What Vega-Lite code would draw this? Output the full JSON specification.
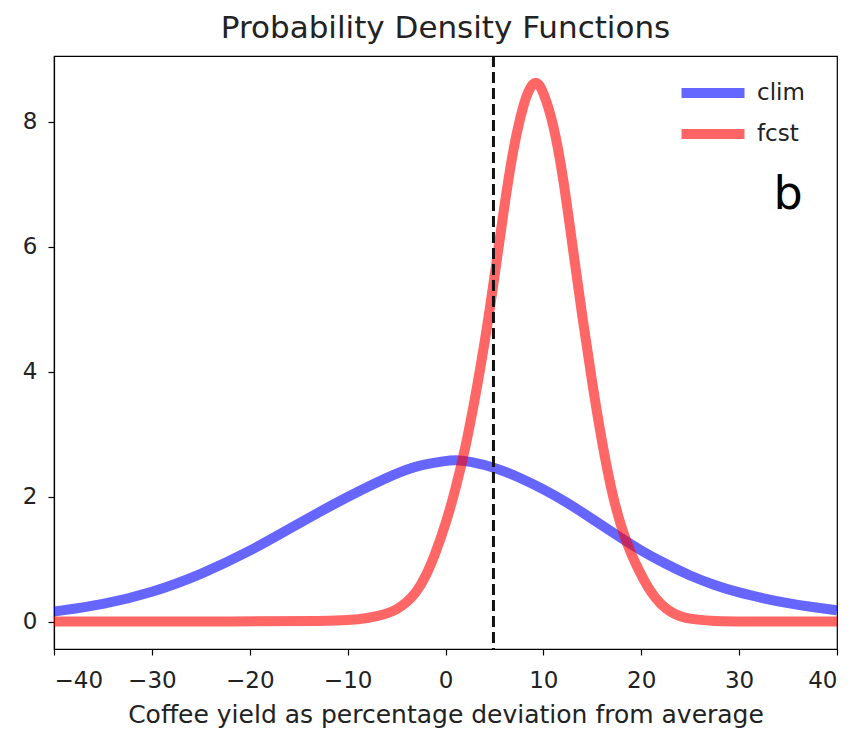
{
  "$schema": "https://vega.github.io/schema/vega-lite/v6.json",
  "autosize": "none",
  "width": 783,
  "height": 593,
  "padding": {"left": 54, "top": 56, "right": 19, "bottom": 87},
  "background": "white",
  "config": {
    "font": "DejaVu Sans",
    "view": {"stroke": "#000", "strokeWidth": 1.2},
    "axis": {
      "grid": false,
      "domainColor": "#000",
      "domainWidth": 1.2,
      "tickColor": "#000",
      "tickSize": 6,
      "tickWidth": 1.2,
      "labelColor": "#222",
      "labelFontSize": 23,
      "labelFont": "DejaVu Sans",
      "titleColor": "#222",
      "titleFontWeight": "normal",
      "titleFont": "DejaVu Sans"
    }
  },
  "title": {
    "text": "Probability Density Functions",
    "fontSize": 31,
    "fontWeight": "normal",
    "color": "#222",
    "font": "DejaVu Sans",
    "offset": 10
  },
  "datasets": {
    "pdf": [
      {"x": -40, "density": 0.16, "series": "clim"},
      {"x": -35, "density": 0.27, "series": "clim"},
      {"x": -30, "density": 0.46, "series": "clim"},
      {"x": -25, "density": 0.75, "series": "clim"},
      {"x": -20, "density": 1.12, "series": "clim"},
      {"x": -15, "density": 1.57, "series": "clim"},
      {"x": -10, "density": 2.0, "series": "clim"},
      {"x": -5, "density": 2.38, "series": "clim"},
      {"x": -2.5, "density": 2.51, "series": "clim"},
      {"x": 0, "density": 2.57, "series": "clim"},
      {"x": 1, "density": 2.59, "series": "clim"},
      {"x": 2.5, "density": 2.56, "series": "clim"},
      {"x": 5, "density": 2.47, "series": "clim"},
      {"x": 7.5, "density": 2.31, "series": "clim"},
      {"x": 10, "density": 2.12, "series": "clim"},
      {"x": 12.5, "density": 1.9, "series": "clim"},
      {"x": 15, "density": 1.64, "series": "clim"},
      {"x": 17.5, "density": 1.38, "series": "clim"},
      {"x": 20, "density": 1.13, "series": "clim"},
      {"x": 22.5, "density": 0.92, "series": "clim"},
      {"x": 25, "density": 0.73, "series": "clim"},
      {"x": 27.5, "density": 0.58, "series": "clim"},
      {"x": 30, "density": 0.46, "series": "clim"},
      {"x": 32.5, "density": 0.37, "series": "clim"},
      {"x": 35, "density": 0.29, "series": "clim"},
      {"x": 37.5, "density": 0.23, "series": "clim"},
      {"x": 40, "density": 0.18, "series": "clim"},
      {"x": -40, "density": 0, "series": "fcst"},
      {"x": -20, "density": 0, "series": "fcst"},
      {"x": -12, "density": 0.01, "series": "fcst"},
      {"x": -10, "density": 0.02, "series": "fcst"},
      {"x": -8, "density": 0.05, "series": "fcst"},
      {"x": -6, "density": 0.12, "series": "fcst"},
      {"x": -5, "density": 0.19, "series": "fcst"},
      {"x": -4, "density": 0.3, "series": "fcst"},
      {"x": -3, "density": 0.46, "series": "fcst"},
      {"x": -2, "density": 0.72, "series": "fcst"},
      {"x": -1, "density": 1.1, "series": "fcst"},
      {"x": 0, "density": 1.55, "series": "fcst"},
      {"x": 1, "density": 2.1, "series": "fcst"},
      {"x": 2, "density": 2.75, "series": "fcst"},
      {"x": 3, "density": 3.55, "series": "fcst"},
      {"x": 4, "density": 4.45, "series": "fcst"},
      {"x": 5, "density": 5.5, "series": "fcst"},
      {"x": 6, "density": 6.65, "series": "fcst"},
      {"x": 7, "density": 7.65, "series": "fcst"},
      {"x": 8, "density": 8.3, "series": "fcst"},
      {"x": 8.5, "density": 8.5, "series": "fcst"},
      {"x": 9, "density": 8.63, "series": "fcst"},
      {"x": 9.5, "density": 8.62, "series": "fcst"},
      {"x": 10, "density": 8.47, "series": "fcst"},
      {"x": 11, "density": 8.0, "series": "fcst"},
      {"x": 12, "density": 7.15, "series": "fcst"},
      {"x": 13, "density": 5.98, "series": "fcst"},
      {"x": 14, "density": 4.85, "series": "fcst"},
      {"x": 15, "density": 3.8, "series": "fcst"},
      {"x": 16, "density": 2.85, "series": "fcst"},
      {"x": 17, "density": 2.05, "series": "fcst"},
      {"x": 18, "density": 1.48, "series": "fcst"},
      {"x": 19, "density": 1.06, "series": "fcst"},
      {"x": 20, "density": 0.74, "series": "fcst"},
      {"x": 21, "density": 0.46, "series": "fcst"},
      {"x": 22, "density": 0.27, "series": "fcst"},
      {"x": 23, "density": 0.15, "series": "fcst"},
      {"x": 24, "density": 0.08, "series": "fcst"},
      {"x": 25, "density": 0.04, "series": "fcst"},
      {"x": 27, "density": 0.01, "series": "fcst"},
      {"x": 30, "density": 0, "series": "fcst"},
      {"x": 40, "density": 0, "series": "fcst"}
    ]
  },
  "layer": [
    {
      "data": {"name": "pdf"},
      "mark": {"type": "line", "strokeWidth": 10, "opacity": 0.6, "interpolate": "basis", "clip": true},
      "encoding": {
        "x": {
          "field": "x",
          "type": "quantitative",
          "scale": {"domain": [-40, 40], "nice": false, "zero": false},
          "axis": {
            "values": [-40, -30, -20, -10, 0, 10, 20, 30, 40],
            "title": "Coffee yield as percentage deviation from average",
            "titleFontSize": 25,
            "titlePadding": 10,
            "labelPadding": 14,
            "labelExpr": "replace(datum.label, '-', '\u2212')"
          }
        },
        "y": {
          "field": "density",
          "type": "quantitative",
          "scale": {"domain": [-0.44, 9.05], "nice": false, "zero": false},
          "axis": {"values": [0, 2, 4, 6, 8], "format": "d", "title": null, "labelPadding": 11}
        },
        "color": {
          "field": "series",
          "type": "nominal",
          "scale": {"domain": ["clim", "fcst"], "range": ["blue", "red"]},
          "legend": {
            "title": null,
            "orient": "none",
            "legendX": 638,
            "legendY": 16,
            "symbolType": "M-2,0H2",
            "symbolStrokeWidth": 10,
            "symbolSize": 992,
            "symbolOpacity": 0.6,
            "labelFontSize": 23,
            "labelColor": "#222",
            "labelOffset": 23,
            "rowPadding": 0
          }
        },
        "order": {"field": "series"}
      }
    },
    {
      "data": {"values": [{}]},
      "mark": {"type": "rule", "color": "#111", "strokeWidth": 3, "strokeDash": [11, 5]},
      "encoding": {"x": {"datum": 4.9}}
    },
    {
      "data": {"values": [{}]},
      "mark": {"type": "text", "fontSize": 46, "color": "#000", "align": "center", "baseline": "alphabetic", "font": "DejaVu Sans"},
      "encoding": {
        "x": {"datum": 35},
        "y": {"datum": 6.6},
        "text": {"value": "b"}
      }
    }
  ]
}
